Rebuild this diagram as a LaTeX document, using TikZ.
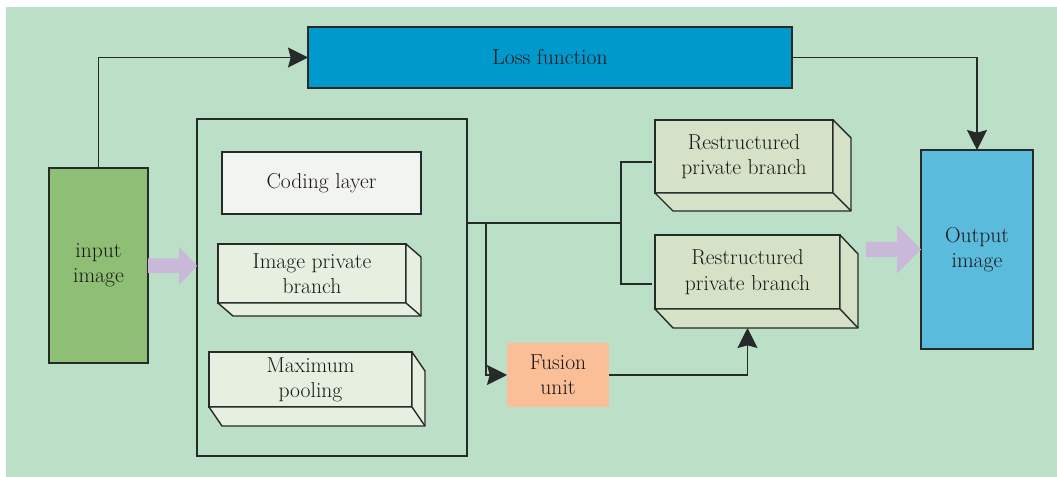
\documentclass[tikz,border=0pt]{standalone}
\usetikzlibrary{arrows.meta,calc}
\definecolor{bgc}{HTML}{BCDFC8}
\definecolor{lc}{HTML}{262A28}
\definecolor{tc}{HTML}{1A1718}
\definecolor{inpc}{HTML}{8FBF74}
\definecolor{lossc}{HTML}{0099CC}
\definecolor{codc}{HTML}{F2F4F2}
\definecolor{ipbc}{HTML}{E6EFE0}
\definecolor{rbc}{HTML}{D5E2C8}
\definecolor{fusc}{HTML}{FBBF98}
\definecolor{outc}{HTML}{5BBBDC}
\definecolor{fatc}{HTML}{C9B8D8}
\newcommand{\extrude}[4]{%
  \filldraw[line, fill=#4, line join=round] (#1.north east) -- ++(#2,#3) -- ($(#1.south east)+(#2,#3)$) -- ($(#1.south west)+(#2,#3)$) -- (#1.south west) -- (#1.south east) -- cycle;
  \draw[line] (#1.south east) -- ++(#2,#3);}
\begin{document}
\begin{tikzpicture}[x=0.75pt,y=-0.75pt,
  line/.style={draw=lc, line width=1.05pt},
  box/.style={line, align=center, text=tc, font=\fontsize{16.2}{19}\selectfont, inner sep=0pt, outer sep=0pt},
  arr/.style={line, -{Stealth[length=15pt,width=15pt,inset=2pt]}},
  fat/.style={fill=fatc}]
\useasboundingbox (0,0) rectangle (1057,477);
\fill[bgc] (6,7) rectangle (1057,477);

\node[box, fill=inpc, minimum width=74.25pt, minimum height=146.25pt] (inp) at (98.5,265.5) {input\\image};
\node[box, fill=lossc, minimum width=363pt, minimum height=45.75pt] (loss) at (550,57.5) {Loss function};
\node[box, fill=none, minimum width=202.5pt, minimum height=252.75pt] (cont) at (332,287.5) {};
\node[box, fill=codc, minimum width=149.25pt, minimum height=46.5pt] (cod) at (321.5,183) {Coding layer};
\node[box, fill=ipbc, minimum width=141pt, minimum height=44.25pt] (ipb) at (312,273.5) {Image private\\branch};
\extrude{ipb}{15}{13}{ipbc}
\node[box, fill=ipbc, minimum width=152.25pt, minimum height=41.25pt] (mp) at (310.5,379.5) {Maximum\\pooling};
\extrude{mp}{13}{19}{ipbc}
\node[box, fill=rbc, minimum width=133.5pt, minimum height=54.75pt] (rb1) at (744,156.5) {Restructured\\private branch};
\extrude{rb1}{18}{18}{rbc}
\node[box, fill=rbc, minimum width=138.75pt, minimum height=55.5pt] (rb2) at (747.5,272) {Restructured\\private branch};
\extrude{rb2}{18}{19}{rbc}
\node[box, draw=none, fill=fusc, minimum width=76.5pt, minimum height=48pt] (fus) at (558,375) {Fusion\\unit};
\node[box, fill=outc, minimum width=84pt, minimum height=149.25pt] (out) at (977,249.5) {Output\\image};

% connectors
\draw[arr] (inp.north) |- (loss.west);
\draw[arr] (loss.east) -| (out.north);
\coordinate (j) at (621,223);
\coordinate (j2) at (486,223);
\draw[line] (cont.east |- j) -- (j);
\draw[line] ($(rb1.west)+(-3,5.5)$) -| (j) |- ($(rb2.west)+(-3,12)$);
\draw[arr] (j2) |- (fus.west);
\draw[arr] (fus.east) -| ($(rb2.south)+(0,19)$);

% fat arrows
\fill[fat] ($(inp.east)+(0,-7)$) -- ++(31,0) -- ++(0,-12) -- (cont.west |- 0,266) -- ($(inp.east)+(31,19.5)$) -- ++(0,-12) -- ($(inp.east)+(0,7.5)$) -- cycle;
\fill[fat] ($(out.west)+(-55,-7.5)$) -- ++(31,0) -- ++(0,-17) -- (out.west) -- ($(out.west)+(-24,24)$) -- ++(0,-16.5) -- ($(out.west)+(-55,7.5)$) -- cycle;
\end{tikzpicture}
\end{document}
